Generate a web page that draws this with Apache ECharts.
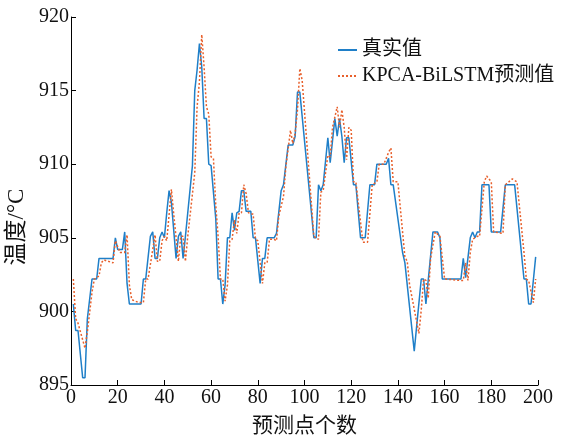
<!DOCTYPE html>
<html>
<head>
<meta charset="utf-8">
<script src="https://cdn.jsdelivr.net/npm/echarts@6/dist/echarts.min.js"></script>
<style>
  html, body { margin: 0; padding: 0; background: #fff; }
  #chart { width: 574px; height: 439px; }
</style>
</head>
<body>
<div id="chart"></div>
<script>
// 图例名称
const seriesNames = ['真实值', 'KPCA-BiLSTM预测值']
const yTicks = [895, 900, 905, 910, 915, 920]

// 真实值: 点序号 / 温度
const realIdx = [1, 2, 3, 5, 6, 7, 9, 11, 12, 18, 19, 20, 22, 23, 24, 25, 30, 31, 32, 34, 35, 36, 37, 38, 39, 40,
  41, 42, 43, 45, 46, 47, 48, 49, 50, 52, 53, 54, 55, 56, 57, 58, 59, 60, 62, 63, 64, 65, 66, 67, 68, 69, 70,
  71, 72, 73, 74, 75, 77, 78, 79, 81, 82, 83, 84, 87, 88, 90, 91, 93, 95, 96, 97, 98, 104, 105, 106, 107, 108,
  110, 111, 112, 113, 114, 115, 116, 117, 118, 119, 121, 122, 124, 126, 128, 130, 131, 135, 136, 137, 138, 142,
  143, 147, 150, 151, 152, 155, 157, 158, 159, 167, 168, 169, 171, 172, 173, 174, 175, 176, 179, 180, 184, 186,
  190, 194, 195, 196, 197, 199]
const realVal = [900.5, 898.7, 898.7, 895.5, 895.5, 899.5, 902.2, 902.2, 903.6, 903.6, 905.0, 904.2, 904.2, 905.4, 901.9, 900.5, 900.5, 902.2, 902.2, 905.1, 905.4, 903.6, 903.6, 905.0, 905.4, 905.0,
  906.7, 908.2, 907.4, 903.6, 905.1, 905.4, 903.6, 905.1, 906.7, 909.9, 915.0, 916.4, 918.2, 916.6, 913.1, 913.1, 910.0, 909.9, 906.3, 902.2, 902.2, 900.5, 901.8, 905.0, 905.0, 906.7, 905.5,
  906.7, 906.8, 908.2, 908.2, 906.8, 906.8, 905.0, 905.0, 901.9, 903.6, 903.6, 905.0, 905.0, 905.3, 908.2, 908.6, 911.3, 911.3, 911.9, 914.9, 914.9, 905.0, 905.0, 908.6, 908.2, 908.6,
  911.8, 910.1, 911.6, 913.1, 911.9, 913.1, 911.9, 910.1, 911.8, 911.8, 908.6, 908.6, 905.0, 905.0, 908.6, 908.6, 910.0, 910.0, 910.4, 908.6, 908.6, 904.0,
  903.3, 897.3, 902.2, 902.2, 900.5, 905.4, 905.4, 905.0, 902.2, 902.2, 903.6, 902.3, 905.0, 905.4, 905.0, 905.4, 905.4, 908.6, 908.6, 905.4, 905.4, 908.6,
  908.6, 902.2, 902.2, 900.5, 900.5, 903.7]

// KPCA-BiLSTM预测值
const predIdx = [1, 2, 3, 6, 7, 9, 10, 12, 13, 14, 18, 19, 21, 23, 24, 25, 26, 29, 31, 32, 33, 36, 37, 38, 39, 40,
  41, 43, 44, 46, 47, 48, 49, 50, 53, 54, 55, 56, 57, 58, 59, 60, 61, 62, 63, 64, 65, 66, 67, 68, 69, 70, 71,
  72, 73, 74, 75, 76, 78, 79, 80, 82, 83, 84, 85, 87, 88, 89, 91, 92, 94, 95, 96, 97, 98, 99, 104, 106, 107,
  108, 109, 110, 111, 112, 114, 115, 116, 117, 118, 119, 120, 121, 122, 125, 127, 129, 131, 132, 134, 136, 137,
  138, 140, 143, 144, 145, 149, 150, 151, 152, 153, 154, 156, 158, 160, 167, 168, 169, 170, 171, 172, 174, 175,
  177, 178, 180, 181, 185, 186, 189, 191, 194, 195, 196, 198, 199]
const predVal = [902.2, 899.5, 899.2, 897.5, 898.6, 901.3, 902.2, 902.4, 903.3, 903.5, 903.3, 904.8, 904.0, 904.0, 905.2, 901.8, 900.8, 900.6, 900.6, 902.2, 902.2, 905.2, 903.4, 903.4, 904.8, 905.1,
  904.8, 908.3, 906.6, 903.4, 905.1, 905.1, 903.4, 905.1, 909.4, 913.9, 915.6, 918.8, 916.6, 913.9, 913.4, 910.5, 910.4, 907.2, 905.1, 902.2, 902.2, 900.7, 901.8, 904.8, 904.9, 906.2, 905.3,
  906.7, 906.7, 908.6, 908.0, 906.7, 906.6, 904.9, 904.8, 901.9, 903.3, 903.3, 904.9, 904.9, 904.8, 906.5, 907.8, 909.8, 912.3, 911.4, 912.1, 913.7, 916.5, 915.7, 905.1, 904.9, 908.1,
  908.2, 909.4, 910.6, 910.5, 912.5, 913.9, 912.5, 913.7, 912.5, 910.3, 912.5, 912.3, 908.8, 908.8, 904.7, 904.7, 908.6, 908.8, 910.0, 910.0, 910.8, 911.1,
  908.8, 908.8, 903.7, 903.4, 901.8, 898.5, 900.1, 902.2, 902.1, 900.9, 903.6, 905.4, 905.1, 902.2, 902.1, 902.1, 903.3, 902.1, 904.0, 904.9, 905.1, 905.1,
  908.8, 909.2, 908.8, 905.4, 905.3, 908.6, 909.0, 908.8, 904.0, 902.2, 902.1, 900.6, 902.2]

const zip = (xs, ys) => xs.map((x, i) => [x, ys[i]])

const chart = echarts.init(document.getElementById('chart'), null, { renderer: 'canvas' })

const font = 'Liberation Serif, Noto Sans CJK SC, serif'

const option = {
  backgroundColor: '#ffffff',
  animation: false,
  color: ['#1f7fc8', '#e8602c'],
  grid: { left: 71, right: 36, top: 17, bottom: 54, outerBoundsMode: 'none' },
  legend: {
    orient: 'vertical',
    left: 332,
    top: 35,
    itemWidth: 19,
    itemHeight: 10,
    itemGap: 6,
    itemStyle: { opacity: 0 },
    textStyle: { fontFamily: font, fontSize: 20, color: '#111' },
    data: seriesNames
  },
  xAxis: {
    type: 'value',
    min: 0,
    max: 200,
    interval: 20,
    name: '预测点个数',
    nameLocation: 'middle',
    nameGap: 31,
    nameTextStyle: { fontFamily: font, fontSize: 21, color: '#111' },
    axisLine: { lineStyle: { color: '#000', width: 1 } },
    axisTick: { inside: true, length: 5, lineStyle: { color: '#000' } },
    axisLabel: { fontFamily: font, fontSize: 20, color: '#111', margin: 3 },
    splitLine: { show: false }
  },
  yAxis: {
    type: 'value',
    min: yTicks[0],
    max: yTicks[yTicks.length - 1],
    interval: 5,
    name: '温度/°C',
    nameLocation: 'middle',
    nameGap: 31,
    nameTextStyle: { fontFamily: font, fontSize: 23, color: '#111', padding: [0, 52, 0, 0] },
    axisLine: { show: true, lineStyle: { color: '#000', width: 1 } },
    axisTick: { show: true, inside: true, length: 5, lineStyle: { color: '#000' } },
    axisLabel: { fontFamily: font, fontSize: 20, color: '#111', margin: 2 },
    splitLine: { show: false }
  },
  series: [
    {
      name: seriesNames[0],
      type: 'line',
      symbol: 'none',
      data: zip(realIdx, realVal),
      lineStyle: { width: 1.5, color: '#1f7fc8' },
      z: 2
    },
    {
      name: seriesNames[1],
      type: 'line',
      symbol: 'none',
      data: zip(predIdx, predVal),
      lineStyle: { width: 1.5, color: '#e8602c', type: [2, 2] },
      z: 3
    }
  ]
}
chart.setOption(option)
</script>
</body>
</html>
